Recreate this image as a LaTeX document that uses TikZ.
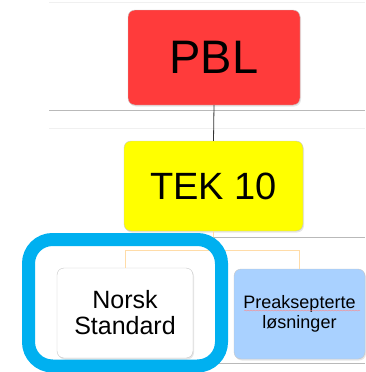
\documentclass[tikz,border=0pt]{standalone}
\usepackage{fontspec}
\setmainfont{Liberation Sans}
\usetikzlibrary{shadows,decorations.pathmorphing}
\definecolor{pblred}{HTML}{FF3B3B}
\definecolor{tekyellow}{HTML}{FFFF00}
\definecolor{preakblue}{HTML}{A9D1FF}
\definecolor{ringblue}{HTML}{00B0F0}
\definecolor{linkorange}{HTML}{FFDCA8}

\begin{document}
\begin{tikzpicture}[x=1pt,y=-1pt,
    box/.style={draw=gray!45,rounded corners=7pt,align=center,
        drop shadow={opacity=0.2,shadow xshift=1pt,shadow yshift=-1.5pt}}]
        \useasboundingbox (0,0) rectangle (365,372);
        %% Slide lines
        \draw[gray!12] (49,2) -- (365,2);
        \draw[gray!55] (49,110) -- (365,110);
        \draw[gray!12] (49,128) -- (365,128);
        \draw[gray!55] (49,237) -- (365,237);
        \draw[gray!55] (49,363) -- (365,363);
        %% Boxes
        \node[box,fill=pblred,minimum width=172pt,minimum height=95pt,
            font=\fontsize{47}{50}\selectfont] (pbl) at (214,57.5) {PBL};
        \node[box,fill=tekyellow,minimum width=179pt,minimum height=90pt,
            font=\fontsize{38}{40}\selectfont] (tek) at (213.5,186) {TEK 10};
        \node[box,fill=white,minimum width=136pt,minimum height=90pt,
            font=\fontsize{25}{26}\selectfont] (norsk) at (125,313) {Norsk\\Standard};
        \node[box,fill=preakblue,minimum width=131pt,minimum height=90pt,
            font=\fontsize{18}{20}\selectfont] (preak) at (299.5,314) {Preaksepterte\\løsninger};
        %% Spelling mark
        \draw[red!45,decorate,decoration={snake,amplitude=0.5pt,segment length=3pt}]
            (244,310.5) -- (360,310.5);
        %% Connectors
        \draw[black!80,thick] (pbl.south) -- (tek.north);
        \draw[linkorange,thick] (tek.south) -- ++(0,19) coordinate (fork);
        \draw[linkorange,thick] (norsk.north) |- (fork) -| (preak.north);
        %% Highlight
        \draw[ringblue,line width=13pt,rounded corners=24pt]
            (28.5,239.5) rectangle (221.5,366);
    \end{tikzpicture}
\end{document}
